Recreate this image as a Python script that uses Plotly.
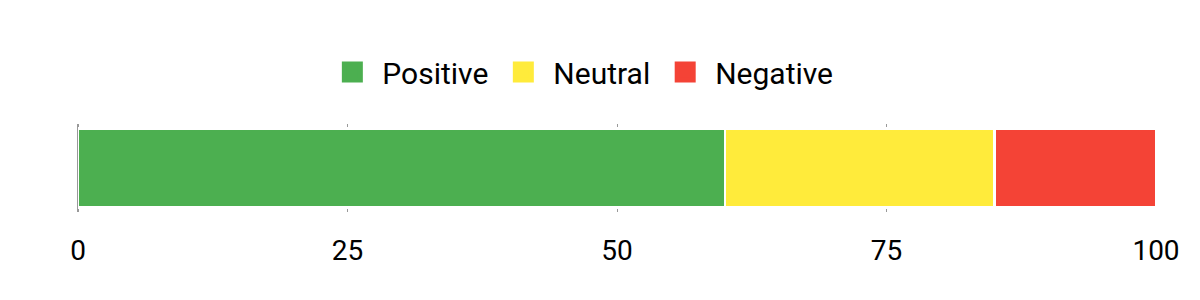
import plotly.graph_objects as go

categories = [""]
series_names = ["Positive", "Neutral", "Negative"]
series_values = [[60], [25], [15]]
colors = ["#4CAF50", "#FFEB3B", "#F44336"]
tick_vals = [0, 25, 50, 75, 100]
tick_text = ["0", "25", "50", "75", "100"]

fig = go.Figure()
for name, vals, col in zip(series_names, series_values, colors):
    fig.add_trace(go.Bar(
        y=categories, x=vals, name=name, orientation="h",
        marker=dict(color=col, line=dict(color="white", width=2.5)),
        showlegend=False,
    ))
    fig.add_trace(go.Scatter(
        x=[None], y=[None], mode="markers", name=name,
        marker=dict(symbol="square", size=24, color=col, line=dict(color=col, width=8)),
    ))

fig.update_layout(
    width=1200, height=300,
    margin=dict(l=78, r=44, t=124, b=88),
    paper_bgcolor="white", plot_bgcolor="white",
    barmode="stack", bargap=0.1,
    font=dict(family="Roboto", size=28, color="black"),
    legend=dict(orientation="h", x=0.466, xanchor="center", y=1 + 52 / 88, yanchor="middle",
                font=dict(size=30), traceorder="normal", itemwidth=50),
    xaxis=dict(range=[0, 100], tickvals=tick_vals, ticktext=tick_text,
               showgrid=True, gridcolor="#999999", gridwidth=1,
               zeroline=True, zerolinecolor="#999999", zerolinewidth=1,
               showline=False, ticks="", tickfont=dict(size=28), ticklabelstandoff=19),
    yaxis=dict(showticklabels=False, showgrid=False, zeroline=False,
               showline=True, linecolor="#999999", linewidth=1, layer="above traces"),
)
fig.write_html("out.html")
